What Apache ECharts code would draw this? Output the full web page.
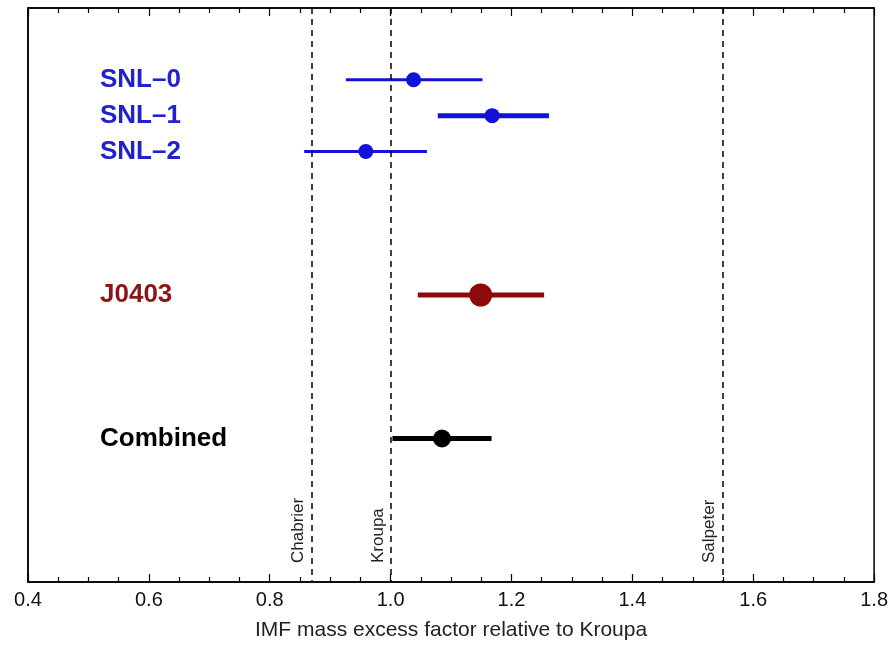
<!DOCTYPE html>
<html>
<head>
<meta charset="utf-8">
<script src="https://cdn.jsdelivr.net/npm/echarts@6/dist/echarts.min.js"></script>
<style>html,body{margin:0;padding:0;background:#fff}#c{width:891px;height:646px}</style>
</head>
<body>
<div id="c"></div>
<script>
// ---- data ----
const labels = ['SNL–0', 'SNL–1', 'SNL–2', 'J0403', 'Combined'];
const rowPos = [0, 1, 2, 6, 10];
const centers = [1.038, 1.168, 0.959, 1.149, 1.085];
const lows = [0.926, 1.078, 0.857, 1.045, 1.003];
const highs = [1.152, 1.262, 1.060, 1.254, 1.167];
const refNames = ['Chabrier', 'Kroupa', 'Salpeter'];
const refValues = [0.868, 1.0, 1.548];
const xMin = 0.4, xMax = 1.8, xStep = 0.2;
const yMin = -2, yMax = 14;

// ---- styles ----
const colors = ['#1212d8', '#1212d8', '#1212d8', '#8c0a0a', '#000000'];
const labelColors = ['#2222cc', '#2222cc', '#2222cc', '#8c1616', '#000000'];
const lineWidths = [3, 5, 3, 5, 5];
const markerSizes = [15, 15, 15, 23, 18];
const FONT = 'Liberation Sans, Arial, Helvetica, sans-serif';

const chart = echarts.init(document.getElementById('c'), null, {renderer: 'canvas'});

const rich = {};
labels.forEach((l, i) => {
  rich['r' + i] = {color: labelColors[i], fontWeight: 'bold', fontSize: 26, fontFamily: FONT};
});

const xAxisCommon = {
  type: 'value', min: xMin, max: xMax, interval: xStep,
  splitLine: {show: false},
  axisLine: {show: true, onZero: false, lineStyle: {color: '#000', width: 1.5}},
  axisTick: {show: true, inside: true, length: 8, lineStyle: {color: '#000', width: 1.2}},
  minorTick: {show: true, splitNumber: 4, length: 5, lineStyle: {color: '#000', width: 1.2}},
  minorSplitLine: {show: false}
};

const option = {
  animation: false,
  backgroundColor: '#fff',
  grid: {left: 28, right: 12, top: 8, bottom: 56, show: true, borderColor: '#000', borderWidth: 1.5},
  xAxis: [
    Object.assign({}, xAxisCommon, {
      position: 'bottom',
      name: 'IMF mass excess factor relative to Kroupa',
      nameLocation: 'middle', nameGap: 38,
      nameTextStyle: {fontSize: 21, color: '#222', fontFamily: FONT},
      axisLabel: {show: true, fontSize: 20, color: '#111', fontFamily: FONT, margin: 8,
        formatter: v => v.toFixed(1)}
    }),
    Object.assign({}, xAxisCommon, {position: 'top', axisLabel: {show: false}})
  ],
  yAxis: {
    type: 'value', min: yMin, max: yMax, interval: 1, inverse: true,
    splitLine: {show: false},
    axisLine: {show: true, onZero: false, lineStyle: {color: '#000', width: 1.5}},
    axisTick: {show: false},
    axisLabel: {
      show: true, inside: true, margin: 72, align: 'left',
      formatter: v => {
        const i = rowPos.indexOf(v);
        return i < 0 ? '' : '{r' + i + '|' + labels[i] + '}';
      },
      rich: rich
    }
  },
  series: [
    {
      type: 'line', data: [], xAxisIndex: 0,
      markLine: {
        silent: true, symbol: 'none', animation: false,
        lineStyle: {color: '#000', type: [6, 5], width: 1.5},
        label: {show: false},
        data: refValues.map(v => ({xAxis: v}))
      }
    },
    {
      type: 'custom',
      xAxisIndex: 0,
      data: refValues.map((v, i) => [v, yMax, i]),
      renderItem: (params, api) => {
        const i = api.value(2);
        const p = api.coord([api.value(0), api.value(1)]);
        return {
          type: 'text',
          x: p[0] - 4, y: p[1] - 19,
          rotation: Math.PI / 2,
          style: {text: refNames[i], fill: '#222', fontSize: 17, fontFamily: FONT,
            align: 'left', verticalAlign: 'bottom'}
        };
      }
    },
    {
      type: 'custom',
      xAxisIndex: 0,
      data: labels.map((l, i) => [centers[i], rowPos[i], lows[i], highs[i], i]),
      renderItem: (params, api) => {
        const i = api.value(4);
        const c = api.coord([api.value(0), api.value(1)]);
        const lo = api.coord([api.value(2), api.value(1)]);
        const hi = api.coord([api.value(3), api.value(1)]);
        return {
          type: 'group',
          children: [
            {type: 'line', shape: {x1: lo[0], y1: lo[1], x2: hi[0], y2: hi[1]},
              style: {stroke: colors[i], lineWidth: lineWidths[i]}},
            {type: 'circle', shape: {cx: c[0], cy: c[1], r: markerSizes[i] / 2},
              style: {fill: colors[i]}}
          ]
        };
      }
    }
  ]
};
chart.setOption(option);
</script>
</body>
</html>
